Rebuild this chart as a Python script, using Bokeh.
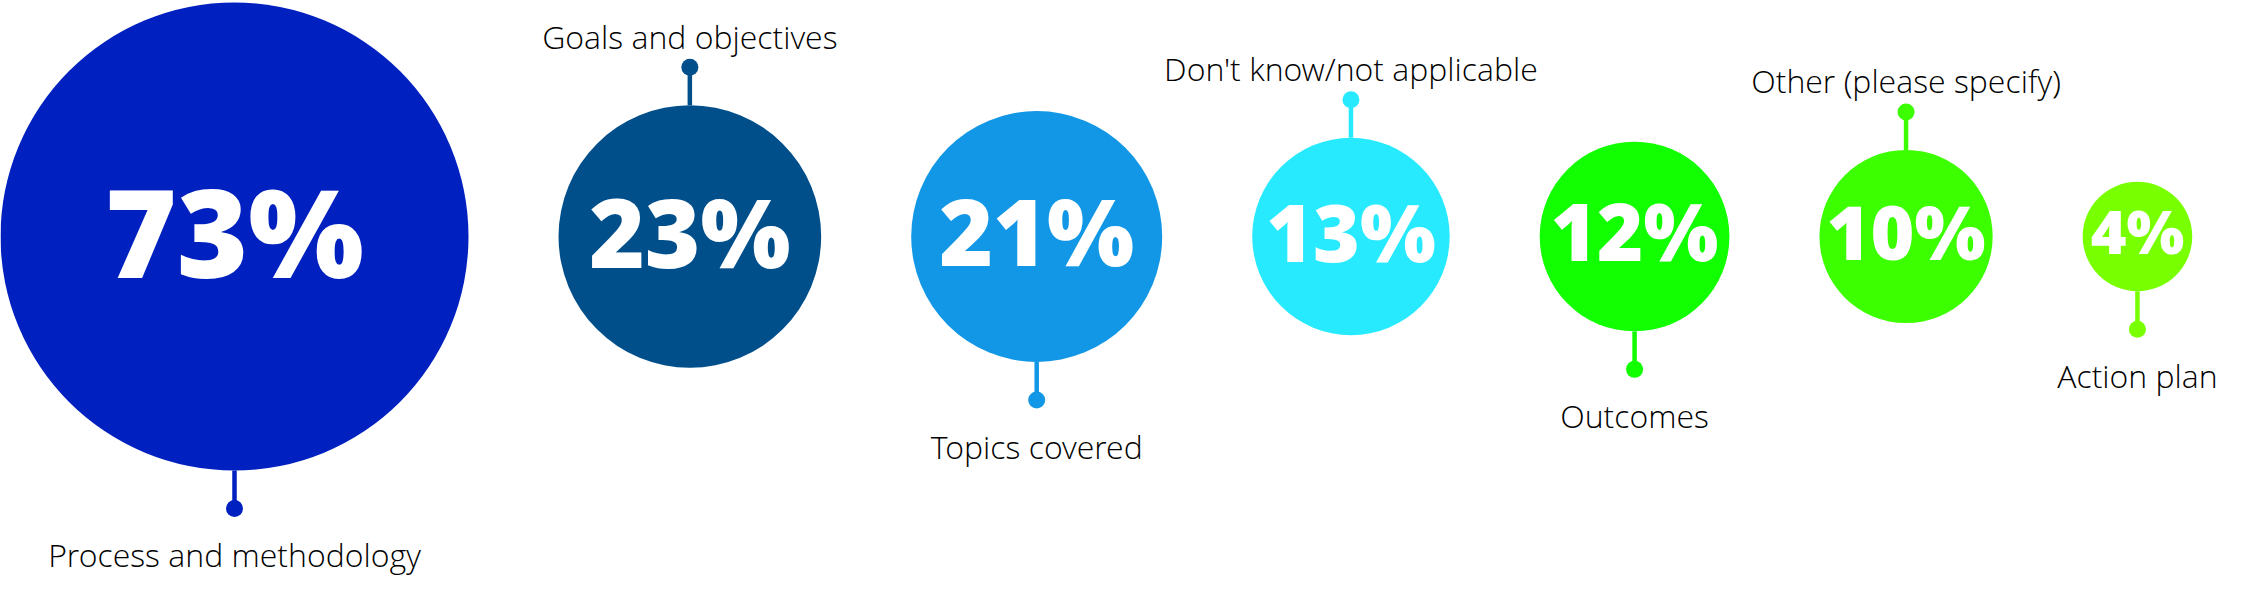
import math
from bokeh.plotting import figure
from bokeh.models import ColumnDataSource, Range1d
from bokeh.core.properties import value
from bokeh.embed import file_html
from bokeh.resources import INLINE

# ---- data ----
categories = ["Process and methodology", "Goals and objectives", "Topics covered",
              "Don't know/not applicable", "Outcomes", "Other (please specify)", "Action plan"]
percentages = [73, 23, 21, 13, 12, 10, 4]

# ---- style ----
palette = ["#0020BF", "#004F8B", "#1197E5", "#27EAFF", "#11FF00", "#3CFF00", "#78FF00"]
MAX_R = 234          # radius (px) of the largest bubble
GAP = 90             # horizontal gap between bubbles
CY = 236             # vertical centre line
STEM = 38            # stem length from bubble edge to dot
DOT_R = 8.5
LABEL_SIZE = 32

W, H = 2227, 581

vmax = max(percentages)
radii = [MAX_R * math.sqrt(v / vmax) for v in percentages]

xs = []
cursor = 0.0
for r in radii:
    xs.append(cursor + r)
    cursor += 2 * r + GAP

ys = [CY] * len(percentages)
up = [i % 2 == 1 for i in range(len(percentages))]

edge_y = [CY - r if u else CY + r for r, u in zip(radii, up)]
dot_y = [e - STEM if u else e + STEM for e, u in zip(edge_y, up)]
label_y = [d - 31 if u else d + 46 for d, u in zip(dot_y, up)]

fs = [min(0.45 * r + 36, 0.52 * MAX_R) for r in radii]
pct_y = [CY - 6 for f in fs]

src = ColumnDataSource(dict(
    x=xs, y=ys, r=radii, color=palette, cat=categories,
    pct=[f"{v}%" for v in percentages],
    fs=[f"{f:.0f}px" for f in fs], pct_y=pct_y,
    edge_y=edge_y, dot_y=dot_y, label_y=label_y,
))

p = figure(width=W, height=H, x_range=Range1d(0, W), y_range=Range1d(H, 0),
           output_backend="svg", toolbar_location=None, min_border=0,
           x_axis_type=None, y_axis_type=None)
p.grid.visible = False
p.outline_line_color = None
p.background_fill_color = "white"
p.border_fill_color = "white"

p.circle(x="x", y="y", radius="r", fill_color="color", line_color=None, source=src)
p.segment(x0="x", y0="edge_y", x1="x", y1="dot_y", line_color="color", line_width=4.5, source=src)
p.circle(x="x", y="dot_y", radius=DOT_R, fill_color="color", line_color=None, source=src)

p.text(x="x", y="pct_y", text="pct", text_font=value("Open Sans ExtraBold, Open Sans"),
       text_font_style="bold", text_font_size="fs", text_color="white", text_align="center",
       text_baseline="middle", source=src)

p.text(x="x", y="label_y", text="cat", text_font=value("Open Sans Light, Open Sans"),
       text_font_size=f"{LABEL_SIZE}px", text_color="#000000", text_align="center",
       text_baseline="alphabetic", source=src)

open("out.html", "w").write(file_html(p, INLINE))
